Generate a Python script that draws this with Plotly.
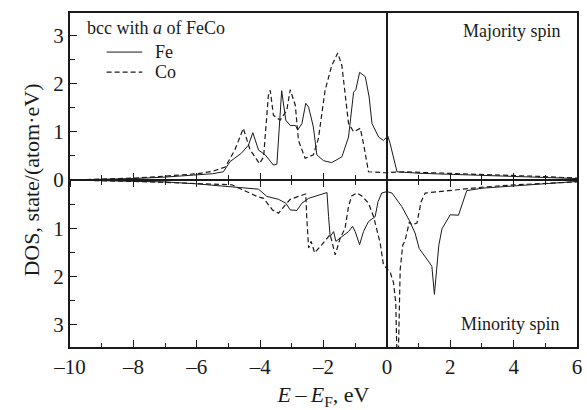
import plotly.graph_objects as go

# ---- data ----
e_fe_up = [-10, -9, -8, -7, -6, -5.5, -5.16, -4.95, -4.6, -4.37, -4.23, -4.05, -3.84, -3.58, -3.47,
           -3.32, -3.19, -3.05, -2.89, -2.81, -2.68, -2.56, -2.47, -2.32, -2.21, -2.0, -1.74, -1.42,
           -1.21, -1.05, -0.98, -0.86, -0.68, -0.56, -0.47, -0.26, -0.11, 0.03, 0.1, 0.32, 1, 2, 3, 4, 5, 6]
dos_fe_up = [0.0, 0.01, 0.03, 0.06, 0.1, 0.13, 0.17, 0.38, 0.55, 0.72, 0.98, 0.62, 0.52, 0.31, 0.33,
             1.85, 1.24, 1.13, 1.13, 1.04, 1.17, 1.59, 1.51, 1.10, 0.52, 0.40, 0.36, 0.48,
             0.89, 1.82, 1.87, 2.23, 2.14, 1.72, 1.17, 0.89, 0.82, 0.91, 0.76, 0.17, 0.14, 0.12, 0.1, 0.07, 0.05, 0.03]

e_co_up = [-10, -9, -8, -7, -6, -5.5, -5.1, -4.8, -4.53, -4.32, -4.02, -3.89, -3.74, -3.68, -3.58,
           -3.37, -3.16, -3.05, -2.89, -2.79, -2.58, -2.32, -2.16, -1.95, -1.74, -1.55, -1.42, -1.21,
           -1.05, -0.84, -0.74, -0.58, -0.05, 0.5, 1, 2, 3, 4, 5, 6]
dos_co_up = [0.0, 0.02, 0.04, 0.08, 0.13, 0.18, 0.27, 0.62, 1.07, 0.63, 0.34, 0.48, 1.75, 1.86, 1.34,
             1.24, 1.44, 1.87, 1.55, 0.82, 0.45, 0.52, 0.86, 1.86, 2.37, 2.63, 2.37, 1.17,
             1.0, 1.07, 0.76, 0.17, 0.15, 0.17, 0.16, 0.14, 0.12, 0.09, 0.07, 0.04]

e_fe_dn = [-10, -9, -8, -7, -6, -4.89, -4.05, -3.79, -3.42, -3.19, -3.05, -2.84, -2.68, -2.47, -2.21,
           -1.89, -1.84, -1.79, -1.68, -1.61, -1.47, -1.32, -1.21, -1.08, -1.0, -0.86, -0.74, -0.58,
           -0.37, -0.28, -0.16, 0.0, 0.16, 0.47, 0.71, 0.89, 1.02, 1.33, 1.42, 1.5, 1.64, 1.74, 2.0,
           2.26, 2.42, 2.52, 3, 4, 5, 6]
dos_fe_dn = [0.0, 0.01, 0.02, 0.04, 0.08, 0.14, 0.19, 0.34, 0.40, 0.48, 0.62, 0.63, 0.48, 0.38, 0.33,
             0.26, 0.76, 1.17, 1.07, 1.27, 1.20, 1.13, 1.07, 0.96, 1.07, 1.34, 1.07, 0.86,
             0.76, 0.45, 0.27, 0.24, 0.27, 0.55, 0.84, 1.1, 1.42, 1.70, 1.79, 2.37, 1.35, 1.01, 0.72,
             0.73, 0.39, 0.22, 0.17, 0.12, 0.07, 0.03]

e_co_dn = [-10, -9, -8, -7, -6, -4.89, -4.1, -3.89, -3.61, -3.42, -3.21, -3.05, -2.79, -2.56, -2.53,
           -2.47, -2.39, -2.28, -2.05, -1.79, -1.63, -1.47, -1.32, -1.21, -1.11, -0.95, -0.79, -0.58,
           -0.42, -0.21, -0.11, 0.11, 0.21, 0.28, 0.32, 0.36, 0.42, 0.5, 0.58, 0.71, 0.79, 0.95, 1.08,
           1.21, 1.95, 3, 4, 5, 6]
dos_co_dn = [0.0, 0.01, 0.03, 0.05, 0.08, 0.10, 0.34, 0.38, 0.62, 0.69, 0.52, 0.40, 0.34, 0.29, 0.76,
             1.41, 1.27, 1.51, 1.34, 1.13, 1.55, 1.20, 1.00, 0.55, 0.33, 0.27, 0.33, 0.48,
             0.76, 1.31, 1.75, 1.92, 2.13, 2.54, 3.7, 3.7, 1.86, 1.35, 1.24, 0.87, 0.93, 0.89, 0.45,
             0.27, 0.22, 0.15, 0.1, 0.07, 0.04]

x_ticks = [-10, -8, -6, -4, -2, 0, 2, 4, 6]
x_tick_text = ["–10", "–8", "–6", "–4", "–2", "0", "2", "4", "6"]
y_ticks = [-3, -2, -1, 0, 1, 2, 3]
y_tick_text = ["3", "2", "1", "0", "1", "2", "3"]
series_names = ["Fe", "Co"]

FONT = "Liberation Serif"
INK = "#1a1a1a"
DASH = "5px,3px"

fig = go.Figure()
fig.add_trace(go.Scatter(x=e_fe_up, y=dos_fe_up, mode="lines", name=series_names[0],
                         line=dict(color=INK, width=1), showlegend=False))
fig.add_trace(go.Scatter(x=e_co_up, y=dos_co_up, mode="lines", name=series_names[1],
                         line=dict(color=INK, width=1.2, dash=DASH), showlegend=False))
fig.add_trace(go.Scatter(x=e_fe_dn, y=[-v for v in dos_fe_dn], mode="lines", name=series_names[0],
                         line=dict(color=INK, width=1), showlegend=False))
fig.add_trace(go.Scatter(x=e_co_dn, y=[-v for v in dos_co_dn], mode="lines", name=series_names[1],
                         line=dict(color=INK, width=1.2, dash=DASH), showlegend=False))

fig.update_layout(
    width=587, height=410,
    margin=dict(l=70, r=5, t=13, b=63),
    paper_bgcolor="white", plot_bgcolor="white",
    font=dict(family=FONT, color=INK, size=21),
    showlegend=False,
    xaxis=dict(range=[-10, 6], tickvals=x_ticks, ticktext=x_tick_text,
               ticks="inside", ticklen=7, tickwidth=1.2, tickcolor=INK,
               minor=dict(dtick=1, tick0=-9, ticks="inside", ticklen=4, tickwidth=1, tickcolor=INK),
               showline=True, linecolor=INK, linewidth=2, mirror=True,
               showgrid=False, zeroline=True, zerolinecolor=INK, zerolinewidth=1.6,
               title=dict(text="<i>E</i>\u2009–\u2009<i>E</i><sub>F</sub>, eV",
                          font=dict(size=22, family=FONT), standoff=10),
               tickfont=dict(size=21, family=FONT)),
    xaxis2=dict(range=[-10, 6], overlaying="x", anchor="free", position=0.5, side="bottom",
                tickvals=x_ticks, showticklabels=False, ticks="inside", ticklen=6, tickwidth=1.2,
                tickcolor=INK,
                minor=dict(dtick=1, tick0=-9, ticks="inside", ticklen=4, tickwidth=1, tickcolor=INK),
                showline=True, linecolor=INK, linewidth=1.6, showgrid=False, zeroline=False),
    xaxis3=dict(range=[-10, 6], overlaying="x", anchor="free", position=0.5, side="bottom",
                tickvals=x_ticks, showticklabels=False, ticks="outside", ticklen=6, tickwidth=1.2,
                tickcolor=INK,
                minor=dict(dtick=1, tick0=-9, ticks="outside", ticklen=4, tickwidth=1, tickcolor=INK),
                showline=False, showgrid=False, zeroline=False),
    yaxis=dict(range=[-3.46, 3.46], tickvals=y_ticks, ticktext=y_tick_text,
               ticks="inside", ticklen=7, tickwidth=1.2, tickcolor=INK,
               minor=dict(dtick=0.5, tick0=0.5, ticks="inside", ticklen=5, tickwidth=1, tickcolor=INK),
               showline=True, linecolor=INK, linewidth=2, mirror=True,
               showgrid=False, zeroline=False,
               title=dict(text="DOS, state/(atom·eV)", font=dict(size=22, family=FONT), standoff=8),
               tickfont=dict(size=21, family=FONT)),
)

# invisible traces to bind the overlay axes
fig.add_trace(go.Scatter(x=[None], y=[None], xaxis="x2", showlegend=False, hoverinfo="skip"))
fig.add_trace(go.Scatter(x=[None], y=[None], xaxis="x3", showlegend=False, hoverinfo="skip"))

# hand-drawn legend block
fig.add_annotation(x=0.029, y=0.955, xref="paper", yref="paper", xanchor="left", yanchor="middle",
                   text="bcc with <i>a</i> of FeCo", showarrow=False, font=dict(size=18, family=FONT))
legend_rows = [(0.883, dict(color=INK, width=1)), (0.823, dict(color=INK, width=1.2, dash=DASH))]
for name, (yy, ln) in zip(series_names, legend_rows):
    fig.add_shape(type="line", xref="paper", yref="paper", x0=0.0723, x1=0.1426, y0=yy, y1=yy, line=ln)
    fig.add_annotation(x=0.164, y=yy, xref="paper", yref="paper", xanchor="left", yanchor="middle",
                       text=name, showarrow=False, font=dict(size=18, family=FONT))

fig.add_annotation(x=0.973, y=0.946, xref="paper", yref="paper", xanchor="right", yanchor="middle",
                   text="Majority spin", showarrow=False, font=dict(size=18, family=FONT))
fig.add_annotation(x=0.971, y=0.069, xref="paper", yref="paper", xanchor="right", yanchor="middle",
                   text="Minority spin", showarrow=False, font=dict(size=18, family=FONT))

fig.write_html("out.html")
